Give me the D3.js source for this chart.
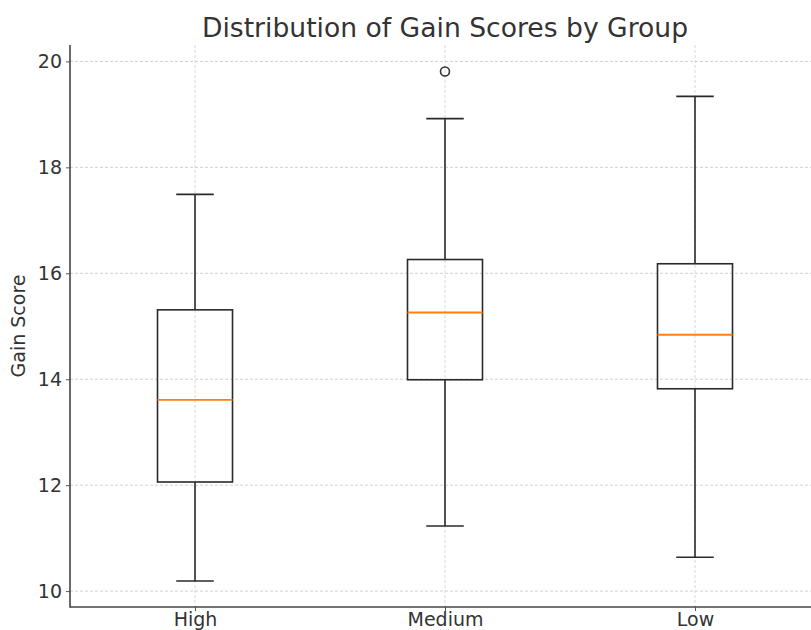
<!DOCTYPE html>
<html>
<head>
<meta charset="utf-8">
<script src="https://cdn.jsdelivr.net/npm/d3@7"></script>
<style>
html,body{margin:0;padding:0;background:#fff;}
svg{display:block;font-family:"DejaVu Sans",sans-serif;}
</style>
</head>
<body>
<svg id="chart" width="811" height="630"></svg>
<script>
const categories = ["High", "Medium", "Low"];
const whiskerLow = [10.19, 11.23, 10.64];
const q1 = [12.06, 13.99, 13.82];
const median = [13.61, 15.26, 14.84];
const q3 = [15.31, 16.26, 16.18];
const whiskerHigh = [17.49, 18.92, 19.34];
const outliers = [[], [19.81], []];
const yTicks = [10, 12, 14, 16, 18, 20];

const svg = d3.select("#chart");
const mLeft = 70, mRight = 820, mTop = 45, mBottom = 607;

const x = d3.scaleLinear().domain([0.5, 3.5]).range([mLeft, mRight]);
const y = d3.scaleLinear().domain([9.70, 20.31]).range([mBottom, mTop]);

// grid
const grid = svg.append("g");
grid.selectAll(".hg").data(yTicks).join("line")
  .attr("x1", mLeft).attr("x2", mRight)
  .attr("y1", d => y(d)).attr("y2", d => y(d))
  .attr("stroke", "#d0d0d0").attr("stroke-width", 1).attr("stroke-dasharray", "3,2");
grid.selectAll(".vg").data(categories).join("line")
  .attr("x1", (d, i) => x(i + 1)).attr("x2", (d, i) => x(i + 1))
  .attr("y1", mTop).attr("y2", mBottom)
  .attr("stroke", "#d8d8d8").attr("stroke-width", 1).attr("stroke-dasharray", "3,2");

const boxW = x(1.15) - x(0.85);
const capW = x(1.075) - x(0.925);
const g = svg.append("g");
categories.forEach((c, i) => {
  const cx = x(i + 1);
  const line = (x1, y1, x2, y2, col, w) => g.append("line")
    .attr("x1", x1).attr("y1", y1).attr("x2", x2).attr("y2", y2)
    .attr("stroke", col || "#2a2a2a").attr("stroke-width", w || 1.6);
  // whiskers
  line(cx, y(q3[i]), cx, y(whiskerHigh[i]));
  line(cx, y(q1[i]), cx, y(whiskerLow[i]));
  line(cx - capW / 2, y(whiskerHigh[i]), cx + capW / 2, y(whiskerHigh[i]));
  line(cx - capW / 2, y(whiskerLow[i]), cx + capW / 2, y(whiskerLow[i]));
  // box
  g.append("rect").attr("x", cx - boxW / 2).attr("y", y(q3[i]))
    .attr("width", boxW).attr("height", y(q1[i]) - y(q3[i]))
    .attr("fill", "none").attr("stroke", "#2a2a2a").attr("stroke-width", 1.6);
  // median
  line(cx - boxW / 2, y(median[i]), cx + boxW / 2, y(median[i]), "#ff7f0e", 1.8);
  // outliers
  outliers[i].forEach(v => {
    g.append("circle").attr("cx", cx).attr("cy", y(v)).attr("r", 4.5)
      .attr("fill", "none").attr("stroke", "#333").attr("stroke-width", 1.6);
  });
});

// axes
const yAxis = d3.axisLeft(y).tickValues(yTicks).tickSize(4).tickPadding(4).tickFormat(d3.format("d"));
const ya = svg.append("g").attr("transform", `translate(${mLeft},0)`).call(yAxis);
ya.select(".domain").remove();
ya.selectAll("text").attr("font-size", 19).attr("fill", "#333").attr("font-family", "DejaVu Sans");
ya.selectAll("line").attr("stroke", "#555");

const xAxis = d3.axisBottom(x).tickValues([1, 2, 3]).tickSize(4).tickPadding(2)
  .tickFormat(d => categories[d - 1]);
const xa = svg.append("g").attr("transform", `translate(0,${mBottom})`).call(xAxis);
xa.select(".domain").remove();
xa.selectAll("text").attr("font-size", 19).attr("fill", "#333").attr("font-family", "DejaVu Sans");
xa.selectAll("line").attr("stroke", "#555");

// spines
svg.append("line").attr("x1", mLeft).attr("x2", mLeft).attr("y1", mTop).attr("y2", mBottom + 0.8)
  .attr("stroke", "#444").attr("stroke-width", 1.6);
svg.append("line").attr("x1", mLeft).attr("x2", mRight).attr("y1", mBottom).attr("y2", mBottom)
  .attr("stroke", "#444").attr("stroke-width", 1.6);

// labels
svg.append("text").attr("x", 445).attr("y", 37).attr("text-anchor", "middle")
  .attr("font-size", 26.6).attr("fill", "#333").text("Distribution of Gain Scores by Group");
svg.append("text").attr("transform", `translate(25,${(mTop + mBottom) / 2}) rotate(-90)`)
  .attr("text-anchor", "middle").attr("font-size", 19).attr("fill", "#333").text("Gain Score");
</script>
</body>
</html>
